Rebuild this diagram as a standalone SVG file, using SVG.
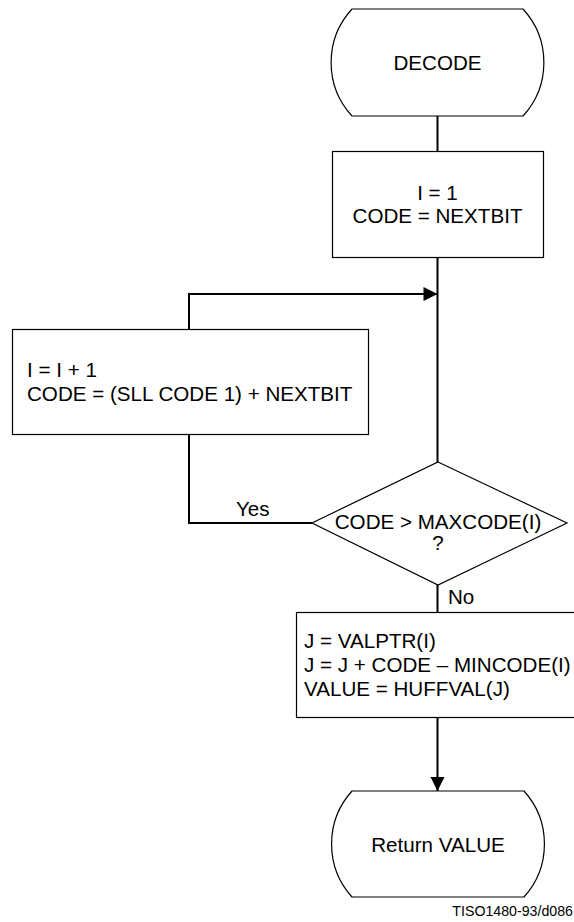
<svg xmlns="http://www.w3.org/2000/svg" width="574" height="922" viewBox="0 0 574 922">
<style>
.shape{fill:#fff;stroke:#000;stroke-width:1.2}
.conn{fill:none;stroke:#000;stroke-width:2}
text{font-family:"Liberation Sans",Arial,sans-serif;font-size:20.6px;fill:#000}
.c{text-anchor:middle}
.small{font-size:14.2px;text-anchor:end}
</style>
<defs>
<marker id="arr" markerUnits="userSpaceOnUse" markerWidth="16" markerHeight="16" viewBox="0 0 16 16" refX="15" refY="8" orient="auto">
<path d="M1,1 L15,8 L1,15 Z" fill="#000"/>
</marker>
</defs>
<rect width="574" height="922" fill="#fff"/>
<g id="connectors">
<path class="conn" d="M437.5,116 V151"/>
<path class="conn" d="M437.5,258 V462"/>
<path class="conn" d="M189,329 V294 H437.5" marker-end="url(#arr)"/>
<path class="conn" d="M312,523 H189 V435"/>
<path class="conn" d="M437.5,585 V612"/>
<path class="conn" d="M437.5,718 V791" marker-end="url(#arr)"/>
</g>
<g id="start">
<path class="shape" d="M352,9 H523 A79,79 0 0 1 523,116 H352 A79,79 0 0 1 352,9 Z"/>
<text class="c" x="437.5" y="70">DECODE</text>
</g>
<g id="init">
<rect class="shape" x="332.5" y="151.5" width="211" height="106"/>
<text class="c" x="437.5" y="200">I = 1</text>
<text class="c" x="437.5" y="223">CODE = NEXTBIT</text>
</g>
<g id="increment">
<rect class="shape" x="12.5" y="329.5" width="356" height="105"/>
<text x="27" y="377">I = I + 1</text>
<text x="27" y="401">CODE = (SLL CODE 1) + NEXTBIT</text>
</g>
<g id="decision">
<path class="shape" d="M438,462 L567,523 L438,585 L312,523 Z"/>
<text class="c" x="438" y="529">CODE &gt; MAXCODE(I)</text>
<text class="c" x="438" y="550">?</text>
</g>
<g id="labels">
<text x="236" y="516">Yes</text>
<text x="448" y="604">No</text>
</g>
<g id="compute">
<rect class="shape" x="296.5" y="612.5" width="290" height="105"/>
<text x="304" y="648">J = VALPTR(I)</text>
<text x="304" y="672">J = J + CODE – MINCODE(I)</text>
<text x="304" y="696">VALUE = HUFFVAL(J)</text>
</g>
<g id="end">
<path class="shape" d="M352,791 H524 A79,79 0 0 1 524,897 H352 A79,79 0 0 1 352,791 Z"/>
<text class="c" x="438" y="852">Return VALUE</text>
</g>
<text class="small" x="573" y="916">TISO1480-93/d086</text>
</svg>
